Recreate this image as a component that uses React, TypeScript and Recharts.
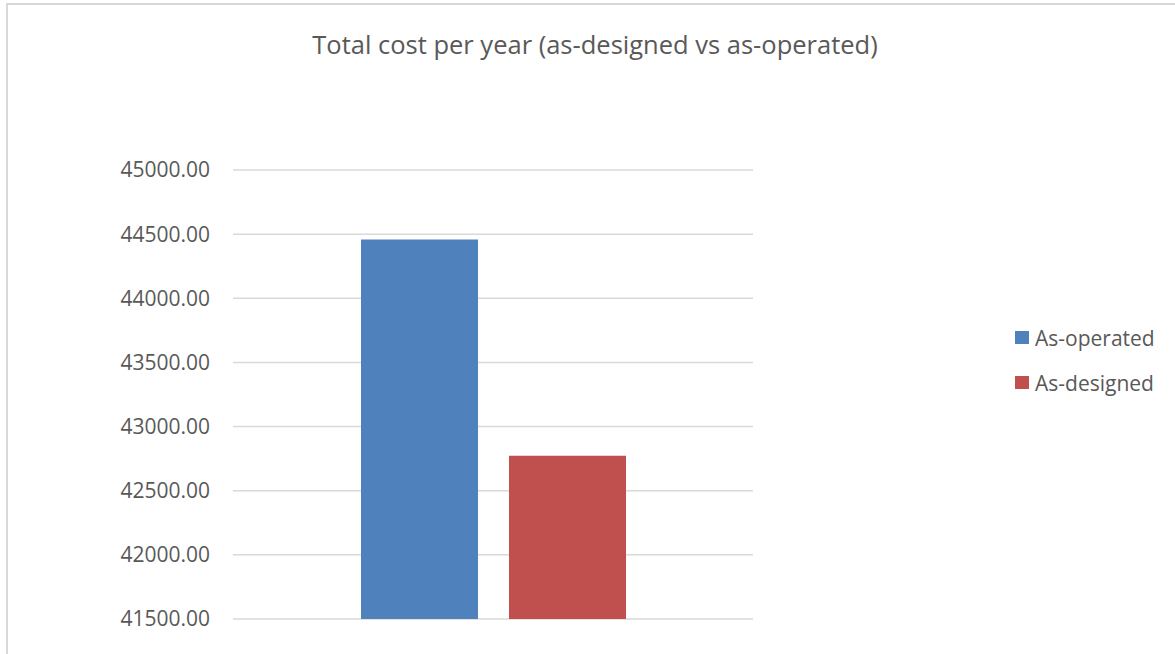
import React from "react";
import { BarChart, Bar, XAxis, YAxis, CartesianGrid, Legend } from "recharts";

const categories = [""];
const asOperatedValues = [44458];
const asDesignedValues = [42772];
const yTicks = [41500, 42000, 42500, 43000, 43500, 44000, 44500, 45000];
const seriesNames = ["As-operated", "As-designed"];
const seriesColors = ["#4F81BD", "#C0504D"];
const titleText = "Total cost per year (as-designed vs as-operated)";

const data = categories.map((c, i) => ({
  name: c,
  asOperated: asOperatedValues[i],
  asDesigned: asDesignedValues[i],
}));

const FONT = "'Open Sans', sans-serif";
const TEXT = "#595959";

const renderLegend = (props: any) => {
  const payload = [...(props.payload || [])].sort(
    (a: any, b: any) => seriesNames.indexOf(a.value) - seriesNames.indexOf(b.value)
  );
  return (
    <div style={{ fontFamily: FONT }}>
      {payload.map((p: any, i: number) => (
        <div key={i} style={{ display: "flex", alignItems: "center", height: 45 }}>
          <div style={{ width: 14, height: 13, background: p.color, marginRight: 6 }} />
          <span style={{ color: TEXT, fontSize: 21 }}>{p.value}</span>
        </div>
      ))}
    </div>
  );
};

export default function App() {
  return (
    <div style={{ position: "absolute", left: 0, top: 0, width: 1175, height: 654, background: "#fff", overflow: "hidden" }}>
      <div style={{ position: "absolute", left: 6, top: 3, width: 1200, height: 700, border: "2px solid #d9d9d9", boxSizing: "border-box" }} />
      <div style={{ position: "absolute", left: 0, top: 26, width: 1190, textAlign: "center", fontFamily: FONT, fontSize: 25.5, color: TEXT, lineHeight: "36px" }}>
        {titleText}
      </div>
      <div style={{ position: "absolute", left: 0, top: 0 }}>
        <BarChart width={1175} height={654} data={data} margin={{ top: 170, right: 422, bottom: 35, left: 0 }} barSize={117} barGap={31}>
          <CartesianGrid vertical={false} stroke="#d9d9d9" strokeWidth={1.5} />
          <XAxis dataKey="name" hide />
          <YAxis
            width={233}
            domain={[41500, 45000]}
            ticks={yTicks}
            tickFormatter={(v: number) => v.toFixed(2)}
            axisLine={false}
            tickLine={false}
            tickSize={0}
            tickMargin={23}
            tick={{ fill: TEXT, fontSize: 21, fontFamily: FONT }}
            allowDataOverflow
          />
          <Legend
            layout="vertical"
            align="center"
            verticalAlign="middle"
            content={renderLegend}
            wrapperStyle={{ left: 1015, top: 315, width: 160 }}
          />
          <Bar dataKey="asOperated" name={seriesNames[0]} fill={seriesColors[0]} isAnimationActive={false} />
          <Bar dataKey="asDesigned" name={seriesNames[1]} fill={seriesColors[1]} isAnimationActive={false} />
        </BarChart>
      </div>
    </div>
  );
}
